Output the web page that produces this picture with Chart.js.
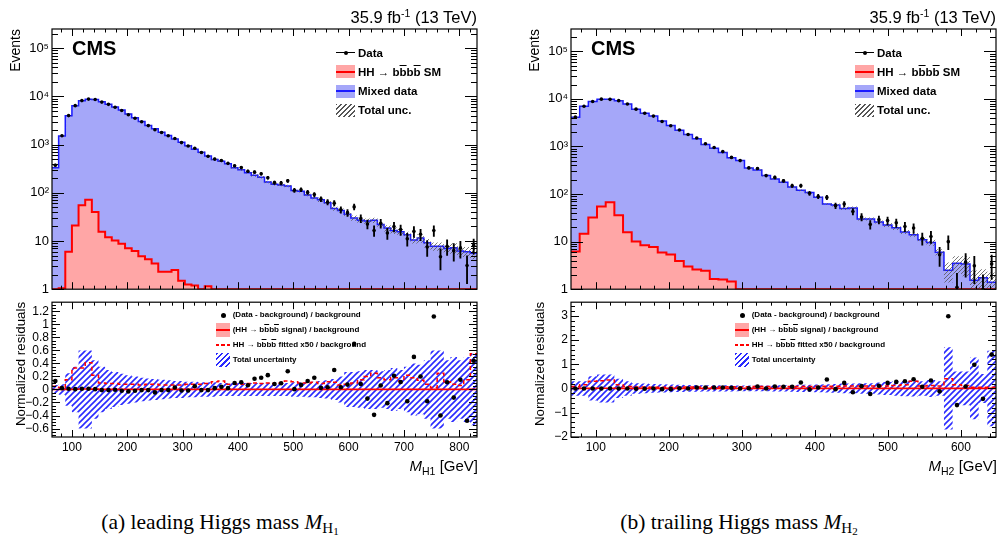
<!DOCTYPE html>
<html>
<head>
<meta charset="utf-8">
<title>HH to 4b: leading and trailing Higgs mass</title>
<script src="https://cdn.jsdelivr.net/npm/chart.js@4.4.1/dist/chart.umd.min.js"></script>
<style>
  html, body { margin: 0; padding: 0; background: #fff; }
  body { width: 1001px; height: 542px; position: relative; overflow: hidden;
         font-family: "Liberation Sans", Arial, Helvetica, sans-serif; color: #000; }
  canvas { position: absolute; }
  .t { position: absolute; white-space: nowrap; }
  .rot { transform-origin: 0 0; transform: rotate(-90deg); }
  .ob { text-decoration: overline; text-decoration-thickness: 1px; }
  .sw { position: absolute; box-sizing: border-box; }
  .cap { font-family: "Liberation Serif", "DejaVu Serif", serif; font-size: 21.5px; line-height: 24px; text-align: center; }
</style>
</head>
<body>
<canvas id="topL" width="490" height="300" style="left:0;top:0"></canvas>
<canvas id="resL" width="490" height="180" style="left:0;top:292px"></canvas>
<canvas id="topR" width="490" height="300" style="left:519px;top:0"></canvas>
<canvas id="resR" width="490" height="180" style="left:519px;top:292px"></canvas>
<script>
// ---- leading Higgs (64 bins, 64-832 GeV) ----
const rangeL = [64, 832, 64];
const bkgL = [330, 1500, 3950, 6400, 8100, 8700, 8600, 7700, 6900, 6000,
  5200, 4300, 3600, 3000, 2500, 2120, 1800, 1540, 1300, 1120,
  950, 800, 690, 580, 490, 450, 400, 330, 300, 262,
  230, 210, 168, 150, 145, 138, 112, 108, 90, 78,
  72, 62, 47, 43, 36, 30, 27, 26, 27, 22,
  18.5, 16.5, 15.5, 13.5, 10.5, 11.5, 9.2, 7.8, 7.8, 7,
  7.2, 6.2, 6, 5.6];
const dataL = [373, 1530, 3990, 6430, 8180, 8790, 8640, 7620, 6830, 5970,
  5100, 4170, 3530, 2970, 2475, 2025, 1780, 1525, 1340, 1100,
  935, 840, 683, 574, 500, 468, 408, 363, 333, 279,
  268, 248, 205, 163, 159, 177, 113, 116, 102, 92,
  74, 64, 61, 44.5, 38.7, 51, 29.3, 22.4, 16.5, 23.3,
  14.6, 20, 17.3, 11.1, 15.8, 13.8, 7.5, 16.5, 4.7, 7.8,
  6.3, 7.1, 3.1, 8.1];
const errL = [19, 39, 63, 80, 90, 94, 93, 87, 83, 77,
  71, 65, 59, 54, 50, 45, 42, 39, 37, 33,
  31, 29, 26, 24, 22, 22, 20, 19, 18, 17,
  16, 16, 14, 13, 13, 13, 11, 11, 10, 9.6,
  8.6, 8, 7.8, 6.7, 6.2, 7.1, 5.4, 4.7, 4.1, 4.8,
  3.8, 4.5, 4.2, 3.3, 4, 3.7, 2.7, 4.1, 2.2, 2.8,
  2.5, 2.7, 1.8, 2.8];
const sigL = [1, 1.05, 6, 21, 55, 72, 40, 15.5, 12, 10.3,
  8.8, 7.1, 6.2, 4.8, 4.2, 3.4, 2.3, 2.3, 2.5, 1.5,
  1.25, 1.2, 1, 1.15, 1, 1, 1, 1, 1, 1,
  1, 1, 1, 1, 1, 1, 1, 1, 1, 1,
  1, 1, 1, 1, 1, 1, 1, 1, 1, 1,
  1, 1, 1, 1, 1, 1, 1, 1, 1, 1,
  1, 1, 1, 1];
const uncTopL = [0.02, 0.02, 0.02, 0.02, 0.02, 0.02, 0.02, 0.02, 0.02, 0.02,
  0.02, 0.02, 0.02, 0.02, 0.02, 0.02, 0.02, 0.02, 0.02, 0.02,
  0.04, 0.04, 0.04, 0.04, 0.04, 0.04, 0.04, 0.04, 0.04, 0.04,
  0.06, 0.06, 0.06, 0.06, 0.06, 0.06, 0.06, 0.06, 0.06, 0.06,
  0.1, 0.1, 0.1, 0.1, 0.1, 0.12, 0.12, 0.12, 0.12, 0.12,
  0.15, 0.15, 0.15, 0.15, 0.15, 0.2, 0.2, 0.2, 0.2, 0.2,
  0.25, 0.25, 0.25, 0.25];
const resL = [0.13, 0.02, 0.01, 0.005, 0.01, 0.01, 0.005, -0.01, -0.01, -0.005,
  -0.02, -0.03, -0.02, -0.01, -0.01, -0.045, -0.01, -0.01, 0.03, -0.015,
  -0.015, 0.05, -0.01, -0.01, 0.02, 0.04, 0.02, 0.1, 0.11, 0.065,
  0.165, 0.18, 0.22, 0.085, 0.095, 0.28, 0.005, 0.07, 0.13, 0.18,
  0.025, 0.035, 0.3, 0.035, 0.075, 0.7, 0.085, -0.14, -0.39, 0.06,
  -0.21, 0.21, 0.115, -0.18, 0.5, 0.2, -0.18, 1.12, -0.4, 0.11,
  -0.125, 0.15, -0.48, 0.44];
const uncL = [0.07, 0.08, 0.25, 0.35, 0.6, 0.6, 0.45, 0.35, 0.3, 0.27,
  0.24, 0.22, 0.2, 0.18, 0.17, 0.16, 0.15, 0.14, 0.13, 0.13,
  0.12, 0.12, 0.11, 0.11, 0.11, 0.1, 0.1, 0.1, 0.1, 0.1,
  0.1, 0.1, 0.1, 0.1, 0.1, 0.1, 0.11, 0.11, 0.12, 0.12,
  0.13, 0.14, 0.16, 0.2, 0.27, 0.27, 0.28, 0.3, 0.3, 0.28,
  0.3, 0.33, 0.3, 0.35, 0.4, 0.38, 0.45, 0.6, 0.6, 0.45,
  0.5, 0.45, 0.5, 0.55];
const fitL = [0.05, 0.03, 0.15, 0.33, 0.33, 0.41, 0.22, 0.1, 0.09, 0.09,
  0.08, 0.08, 0.08, 0.07, 0.08, 0.08, 0.07, 0.07, 0.07, 0.07,
  0.08, 0.08, 0.08, 0.09, 0.12, 0.13, 0.08, 0.08, 0.08, 0.09,
  0.1, 0.09, 0.1, 0.09, 0.1, 0.13, 0.12, 0.1, 0.1, 0.11,
  0.09, 0.12, 0.11, 0.07, 0.08, 0.1, 0.15, 0.2, 0.25, 0.18,
  0.15, 0.18, 0.13, 0.22, 0.18, 0.14, 0.08, 0.03, 0.25, 0.12,
  0.08, 0.06, 0.15, 0.55];
const sigRatioL = [0, 0, 0.001, 0.003, 0.007, 0.008, 0.005, 0.002, 0.002, 0.002,
  0.002, 0.002, 0.002, 0.002, 0.002, 0.002, 0.001, 0.001, 0.002, 0.001,
  0.001, 0.001, 0.001, 0.001, 0.001, 0.001, 0.001, 0.001, 0.001, 0.001,
  0.001, 0.001, 0.001, 0.001, 0.001, 0.001, 0.001, 0.001, 0.001, 0.001,
  0.001, 0.001, 0.001, 0.001, 0.001, 0.001, 0.001, 0.001, 0.001, 0.001,
  0.001, 0.001, 0.001, 0.001, 0.001, 0.001, 0.001, 0.001, 0.001, 0.001,
  0.001, 0.001, 0.001, 0.001];

// ---- trailing Higgs (49 bins, 66-648 GeV) ----
const rangeR = [66, 648, 49];
const bkgR = [4100, 7000, 8800, 9900, 9800, 9200, 7800, 6100, 5000, 4350,
  3450, 2750, 2200, 1790, 1450, 1100, 920, 750, 580, 505,
  355, 320, 245, 207, 178, 140, 120, 108, 86, 62,
  59, 50, 51, 30, 30, 26, 22.5, 19.5, 16, 14,
  11, 9.6, 6, 2.5, 3.5, 3.4, 1.55, 1.75, 1.4];
const dataR = [4150, 7000, 8800, 9900, 9800, 9200, 7800, 6100, 5000, 4350,
  3350, 2720, 2220, 1790, 1510, 1145, 950, 780, 590, 505,
  355, 345, 245, 224, 190, 150, 150, 104, 89, 85,
  57, 61.5, 43, 33, 23, 29, 27.7, 24.8, 20.8, 19.3,
  11.8, 12.8, 5.3, 10, 1.1, 3.7, 3.1, 1.0, 3.4];
const errR = [64, 84, 94, 99, 99, 96, 88, 78, 71, 66,
  58, 52, 47, 42, 39, 34, 31, 28, 24, 22,
  19, 19, 16, 15, 14, 12, 12, 10, 9.4, 9.2,
  7.5, 7.8, 6.6, 5.7, 4.8, 5.4, 5.3, 5, 4.6, 4.4,
  3.4, 3.6, 2.3, 3.2, 1.05, 1.9, 1.8, 1.0, 1.8];
const sigR = [6.2, 14.6, 32, 55, 67, 36, 15.8, 10.1, 8.4, 7.7,
  5.9, 5.35, 3.9, 3.0, 2.6, 2.45, 1.64, 1.6, 1.45, 1,
  1, 1, 1, 1, 1, 1, 1, 1, 1, 1,
  1, 1, 1, 1, 1, 1, 1, 1, 1, 1,
  1, 1, 1, 1, 1, 1, 1, 1, 1];
const uncTopR = [0.02, 0.02, 0.02, 0.02, 0.02, 0.02, 0.02, 0.02, 0.02, 0.02,
  0.02, 0.02, 0.02, 0.02, 0.02, 0.02, 0.02, 0.02, 0.02, 0.02,
  0.04, 0.04, 0.04, 0.04, 0.04, 0.04, 0.04, 0.04, 0.04, 0.04,
  0.07, 0.07, 0.07, 0.07, 0.07, 0.07, 0.1, 0.1, 0.1, 0.1,
  0.1, 0.15, 0.15, 0.45, 0.4, 0.45, 0.6, 0.5, 0.6];
const resR = [0, 0, 0, 0, 0, 0, 0, -0.01, -0.01, 0,
  -0.03, -0.03, 0.01, 0, 0.04, 0.04, 0.04, 0.04, 0.03, 0,
  0.01, 0.08, 0, 0.08, 0.07, 0.07, 0.245, -0.04, 0.04, 0.37,
  -0.03, 0.23, -0.16, 0.095, -0.23, 0.11, 0.23, 0.27, 0.3, 0.38,
  0.07, 0.33, -0.12, 2.99, -0.69, 0.08, 0.98, -0.43, 1.4];
const uncR = [0.3, 0.3, 0.5, 0.58, 0.58, 0.4, 0.3, 0.22, 0.2, 0.18,
  0.17, 0.16, 0.15, 0.14, 0.14, 0.13, 0.13, 0.13, 0.13, 0.12,
  0.12, 0.12, 0.12, 0.13, 0.13, 0.14, 0.15, 0.15, 0.16, 0.17,
  0.18, 0.2, 0.2, 0.22, 0.22, 0.25, 0.27, 0.3, 0.32, 0.33,
  0.3, 0.35, 0.3, 1.7, 0.7, 0.7, 1.28, 0.6, 1.56];
const fitR = [0.08, 0.15, 0.3, 0.32, 0.35, 0.15, 0.08, 0.06, 0.06, 0.05,
  0.05, 0.05, 0.05, 0.06, 0.06, 0.06, 0.06, 0.06, 0.07, 0.07,
  0.07, 0.08, 0.08, 0.08, 0.08, 0.08, 0.08, 0.08, 0.09, 0.09,
  0.09, 0.1, 0.1, 0.1, 0.1, 0.1, 0.1, 0.12, 0.15, 0.3,
  0.1, 0.12, 0.1, 0.4, 0.15, 0.12, 0.05, 0.05, 0.05];
const sigRatioR = [0.001, 0.002, 0.004, 0.006, 0.007, 0.004, 0.002, 0.002, 0.002, 0.002,
  0.002, 0.002, 0.002, 0.002, 0.002, 0.002, 0.002, 0.002, 0.002, 0.001,
  0.001, 0.001, 0.001, 0.001, 0.001, 0.001, 0.001, 0.001, 0.001, 0.001,
  0.001, 0.001, 0.001, 0.001, 0.001, 0.001, 0.001, 0.001, 0.001, 0.001,
  0.001, 0.001, 0.001, 0.001, 0.001, 0.001, 0.001, 0.001, 0.001];

// ---- axis ticks ----
const logTicks = [1, 10, 100, 1000, 10000, 100000];
const logLabels = ['1', '10', '10\u00b2', '10\u00b3', '10\u2074', '10\u2075'];
const xTicksL = [100, 200, 300, 400, 500, 600, 700, 800];
const xTicksR = [100, 200, 300, 400, 500, 600];
const resTicksL = [-0.6, -0.4, -0.2, 0, 0.2, 0.4, 0.6, 0.8, 1, 1.2];
const resTicksR = [-2, -1, 0, 1, 2, 3];

Chart.defaults.font.family = '"Liberation Sans", Arial, Helvetica, sans-serif';
Chart.defaults.color = '#000';

function hatch(color, size, width) {
  const c = document.createElement('canvas');
  c.width = c.height = size;
  const g = c.getContext('2d');
  g.strokeStyle = color;
  g.lineWidth = width;
  g.beginPath();
  g.moveTo(0, size); g.lineTo(size, 0);
  g.moveTo(-size / 2, size / 2); g.lineTo(size / 2, -size / 2);
  g.moveTo(size / 2, size * 1.5); g.lineTo(size * 1.5, size / 2);
  g.stroke();
  return g.createPattern(c, 'repeat');
}
const hatchGray = hatch('#555', 4, 0.8);
const hatchBlue = hatch('#2a2aff', 6, 1.6);

function binEdges(r) {
  const e = [];
  for (let i = 0; i <= r[2]; i++) e.push(r[0] + (r[1] - r[0]) * i / r[2]);
  return e;
}
const steps = (edges, vals) => edges.map((x, i) => ({ x, y: vals[Math.min(i, vals.length - 1)] }));
const centers = (edges, vals) => vals.map((y, i) => ({ x: (edges[i] + edges[i + 1]) / 2, y }));
const fmtRes = v => (v < 0 ? '\u2212' : '') + String(Math.abs(Math.round(v * 10) / 10));

// inward ROOT-style ticks on all four sides plus the frame
const frameTicks = {
  id: 'frameTicks',
  afterDatasetsDraw(chart, args, o) {
    const { ctx, chartArea: a } = chart;
    const x = chart.scales.x, y = chart.scales.y;
    ctx.save();
    ctx.strokeStyle = '#000';
    ctx.lineWidth = 1;
    ctx.beginPath();
    for (let k = Math.ceil(x.min / o.xStep); k * o.xStep <= x.max; k++) {
      const px = Math.round(x.getPixelForValue(k * o.xStep)) + 0.5;
      const len = (k * o.xStep) % 100 === 0 ? o.xLen[0] : o.xLen[1];
      ctx.moveTo(px, a.bottom); ctx.lineTo(px, a.bottom - len);
      ctx.moveTo(px, a.top); ctx.lineTo(px, a.top + len);
    }
    const yv = [];
    if (y.type === 'logarithmic') {
      for (let d = 1; d <= y.max; d *= 10)
        for (let m = 1; m <= 9; m++)
          if (d * m >= y.min && d * m <= y.max) yv.push([d * m, m === 1]);
    } else {
      for (let k = Math.ceil(y.min / o.yStep - 1e-9); k * o.yStep <= y.max + 1e-9; k++)
        yv.push([k * o.yStep, k % o.yEvery === 0]);
    }
    yv.forEach(([v, major]) => {
      const py = Math.round(y.getPixelForValue(v)) + 0.5;
      const len = major ? o.yLen[0] : o.yLen[1];
      ctx.moveTo(a.left, py); ctx.lineTo(a.left + len, py);
      ctx.moveTo(a.right, py); ctx.lineTo(a.right - len, py);
    });
    ctx.stroke();
    ctx.lineWidth = 1.2;
    ctx.strokeRect(a.left, a.top, a.right - a.left, a.bottom - a.top);
    ctx.restore();
  }
};
Chart.register(frameTicks);

function topChart(id, range, bkg, sig, data, err, uncTop, ymax) {
  const edges = binEdges(range);
  const up = bkg.map((b, i) => b * (1 + uncTop[i]));
  const dn = bkg.map((b, i) => b * (1 - uncTop[i]));
  const bars = data.map((d, i) => ({ x: (edges[i] + edges[i + 1]) / 2, y: [Math.max(d - err[i], 0.05), d + err[i]] }));
  return new Chart(document.getElementById(id), {
    type: 'line',
    data: {
      datasets: [
        { label: 'Data', data: centers(edges, data), showLine: false, pointRadius: 1.8,
          pointBackgroundColor: '#000', pointBorderWidth: 0 },
        { type: 'bar', label: 'err', data: bars, backgroundColor: '#000', barThickness: 1.2,
          grouped: false, borderWidth: 0 },
        { label: 'Total unc.', data: steps(edges, up), stepped: true, borderColor: 'rgba(0,0,0,0)',
          pointRadius: 0, fill: '+1', backgroundColor: hatchGray },
        { label: 'unc low', data: steps(edges, dn), stepped: true, borderColor: 'rgba(0,0,0,0)',
          pointRadius: 0, fill: false },
        { label: 'HH SM', data: steps(edges, sig), stepped: true, borderColor: '#ff0000', borderWidth: 2,
          pointRadius: 0, fill: 'start', backgroundColor: '#ffa6a6' },
        { label: 'Mixed data', data: steps(edges, bkg), stepped: true, borderColor: '#1a1aff', borderWidth: 1.5,
          pointRadius: 0, fill: 'start', backgroundColor: '#a5a7f9' }
      ]
    },
    options: {
      responsive: false,
      animation: false,
      events: [],
      layout: { padding: { left: 0, right: 13, top: 29, bottom: 0 } },
      plugins: {
        legend: { display: false },
        tooltip: { enabled: false },
        frameTicks: { xStep: 20, xLen: [7, 3.5], yLen: [12, 6] }
      },
      scales: {
        x: {
          type: 'linear', min: edges[0], max: edges[edges.length - 1], offset: false,
          ticks: { display: false },
          grid: { display: false, drawTicks: false, offset: false },
          border: { display: false },
          afterFit: s => { s.height = 8; }
        },
        y: {
          type: 'logarithmic', min: 1, max: ymax,
          afterBuildTicks: s => { s.ticks = logTicks.map(v => ({ value: v })); },
          ticks: { autoSkip: false, padding: 3, font: { size: 13 }, callback: (v, i) => logLabels[i] },
          grid: { display: false, drawTicks: false },
          border: { display: false },
          afterFit: s => { s.width = 52; }
        }
      }
    }
  });
}

function resChart(id, range, res, fit, sigRatio, unc, ymin, ymax, yTicks, yStep, yEvery, xTicks) {
  const edges = binEdges(range);
  const dn = unc.map(u => -u);
  return new Chart(document.getElementById(id), {
    type: 'line',
    data: {
      datasets: [
        { label: '(Data - background) / background', data: centers(edges, res), showLine: false,
          pointRadius: 2.3, pointBackgroundColor: '#000', pointBorderWidth: 0 },
        { label: 'fitted x50', data: steps(edges, fit), stepped: true, borderColor: '#ff0000',
          borderWidth: 1.5, borderDash: [4, 3], pointRadius: 0, fill: false },
        { label: 'signal / background', data: steps(edges, sigRatio), stepped: true, borderColor: '#ff0000',
          borderWidth: 1.6, pointRadius: 0, fill: false },
        { label: 'Total uncertainty', data: steps(edges, unc), stepped: true, borderColor: 'rgba(0,0,0,0)',
          pointRadius: 0, fill: '+1', backgroundColor: hatchBlue },
        { label: 'unc low', data: steps(edges, dn), stepped: true, borderColor: 'rgba(0,0,0,0)',
          pointRadius: 0, fill: false }
      ]
    },
    options: {
      responsive: false,
      animation: false,
      events: [],
      layout: { padding: { left: 0, right: 13, top: 8, bottom: 0 } },
      plugins: {
        legend: { display: false },
        tooltip: { enabled: false },
        frameTicks: { xStep: 20, xLen: [7, 3.5], yStep, yEvery, yLen: [8, 4] }
      },
      scales: {
        x: {
          type: 'linear', min: edges[0], max: edges[edges.length - 1], offset: false,
          afterBuildTicks: s => { s.ticks = xTicks.map(v => ({ value: v })); },
          ticks: { autoSkip: false, maxRotation: 0, padding: 3, font: { size: 12 }, callback: v => String(v) },
          grid: { display: false, drawTicks: false, offset: false },
          border: { display: false },
          afterFit: s => { s.height = 35; }
        },
        y: {
          type: 'linear', min: ymin, max: ymax,
          afterBuildTicks: s => { s.ticks = yTicks.map(v => ({ value: v })); },
          ticks: { autoSkip: false, padding: 3, font: { size: 12 }, callback: v => fmtRes(v) },
          grid: { display: false, drawTicks: false },
          border: { display: false },
          afterFit: s => { s.width = 52; }
        }
      }
    }
  });
}

topChart('topL', rangeL, bkgL, sigL, dataL, errL, uncTopL, 2.5e5);
topChart('topR', rangeR, bkgR, sigR, dataR, errR, uncTopR, 2.95e5);
resChart('resL', rangeL, resL, fitL, sigRatioL, uncL, -0.73, 1.34, resTicksL, 0.05, 4, xTicksL);
resChart('resR', rangeR, resR, fitR, sigRatioR, uncR, -2.01, 3.57, resTicksR, 0.2, 5, xTicksR);

// ---- text, legends, captions ----
function addDiv(html, css, cls) {
  const d = document.createElement('div');
  d.className = cls || 't';
  d.style.cssText = css;
  d.innerHTML = html;
  document.body.appendChild(d);
  return d;
}
const HH = 'HH &rarr; b<span class="ob">b</span>b<span class="ob">b</span>';

function panelText(dx, sub, caption) {
  addDiv('35.9 fb<span style="font-size:10.5px;position:relative;top:-6px">-1</span> (13 TeV)',
    `right:${1001 - (477 + dx)}px;top:9px;font-size:16.5px;line-height:16px`);
  addDiv('CMS', `left:${72 + dx}px;top:37.5px;font-size:20px;line-height:20px;font-weight:bold`);
  addDiv('Events', `left:${8 + dx}px;top:179px;width:150px;text-align:right;font-size:14px;line-height:14px`, 't rot');
  addDiv('Normalized residuals', `left:${13.7 + dx}px;top:464px;width:200px;text-align:center;font-size:13.3px;line-height:13.3px`, 't rot');
  addDiv(`<i>M</i><span style="font-size:10.5px;position:relative;top:4px">${sub}</span> [GeV]`,
    `right:${1001 - (478 + dx)}px;top:458px;font-size:15px;line-height:15px`);
  addDiv(caption, `left:${dx + 20}px;top:510px;width:400px`, 't cap');

  // top legend
  const lx = 336 + dx, tx = 358 + dx;
  const rows = [
    [52.7, 'Data', `<div class="sw" style="left:0;top:6px;width:19px;height:1px;background:#000"></div>
      <div class="sw" style="left:7.5px;top:4.5px;width:4px;height:4px;border-radius:50%;background:#000"></div>`],
    [71.7, HH + ' SM', `<div class="sw" style="left:0;top:0;width:19px;height:13px;background:#ffa6a6"></div>
      <div class="sw" style="left:0;top:5.5px;width:19px;height:2px;background:#ff0000"></div>`],
    [91, 'Mixed data', `<div class="sw" style="left:0;top:0;width:19px;height:13px;background:#a5a7f9"></div>
      <div class="sw" style="left:0;top:5.5px;width:19px;height:2px;background:#1a1aff"></div>`],
    [110, 'Total unc.', `<div class="sw" style="left:0;top:0;width:19px;height:13px;
      background:repeating-linear-gradient(135deg,#555 0 1px,transparent 1px 3.5px)"></div>`]
  ];
  rows.forEach(([cy, label, sw]) => {
    addDiv(sw, `left:${lx}px;top:${cy - 6.5}px;width:19px;height:13px`);
    addDiv(label, `left:${tx}px;top:${cy - 7}px;font-size:11.5px;line-height:14px;font-weight:bold`);
  });

  // residual legend
  const sx = 216 + dx, stx = 232.7 + dx;
  const srows = [
    [315, '(Data - background) / background', `<div class="sw" style="left:5px;top:4.5px;width:5px;height:5px;border-radius:50%;background:#000"></div>`],
    [330, `(${HH} signal) / background`, `<div class="sw" style="left:0;top:0;width:14px;height:14px;background:#ffa6a6"></div>
      <div class="sw" style="left:0;top:6px;width:14px;height:2px;background:#ff0000"></div>`],
    [345, `${HH} fitted x50 / background`, `<div class="sw" style="left:0;top:6px;width:14px;height:2px;
      background:repeating-linear-gradient(90deg,#ff0000 0 3.5px,transparent 3.5px 5.5px)"></div>`],
    [360.3, 'Total uncertainty', `<div class="sw" style="left:0;top:0;width:14px;height:14px;
      background:repeating-linear-gradient(135deg,#2a2aff 0 1.5px,transparent 1.5px 4px)"></div>`]
  ];
  srows.forEach(([cy, label, sw]) => {
    addDiv(sw, `left:${sx}px;top:${cy - 7}px;width:14px;height:14px`);
    addDiv(label, `left:${stx}px;top:${cy - 5}px;font-size:8px;line-height:10px;font-weight:bold`);
  });
}

panelText(0, 'H1', '(a) leading Higgs mass <i>M</i><span style="font-size:15px;position:relative;top:4px">H<span style="font-size:11px;position:relative;top:2px">1</span></span>');
panelText(519, 'H2', '(b) trailing Higgs mass <i>M</i><span style="font-size:15px;position:relative;top:4px">H<span style="font-size:11px;position:relative;top:2px">2</span></span>');
</script>
</body>
</html>
